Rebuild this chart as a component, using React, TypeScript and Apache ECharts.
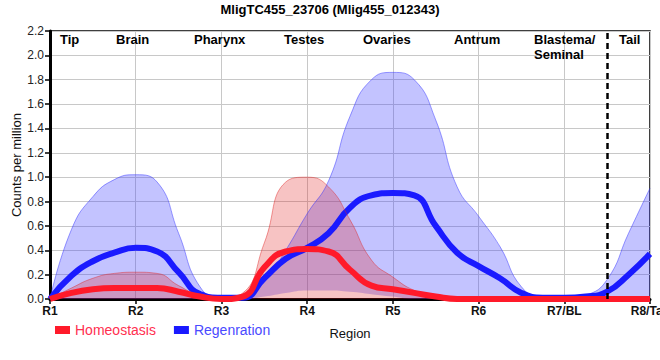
import React, { useEffect, useRef } from "react";
import * as echarts from "echarts";

const title = "MligTC455_23706 (Mlig455_012343)";
const categories = ["R1", "R2", "R3", "R4", "R5", "R6", "R7/BL", "R8/Tail"];
const regionNames = ["Tip", "Brain", "Pharynx", "Testes", "Ovaries", "Antrum", "Blastema/\nSeminal", "Tail"];

// sample positions along the region axis (quarter steps between regions)
const xPos = [0, 0.25, 0.5, 0.75, 1, 1.25, 1.5, 1.75, 2, 2.25, 2.5, 2.75, 3, 3.25, 3.5, 3.75, 4, 4.25, 4.5, 4.75, 5, 5.25, 5.5, 5.75, 6, 6.25, 6.5, 6.75, 7];

const homMean = [0, 0.05, 0.08, 0.09, 0.09, 0.09, 0.06, 0.02, 0.0, 0.02, 0.26, 0.39, 0.41, 0.39, 0.24, 0.11, 0.08, 0.05, 0.02, 0, 0, 0, 0, 0, 0, 0, 0, 0, 0];
const homHi = [0, 0.09, 0.17, 0.21, 0.22, 0.21, 0.11, 0.03, 0.01, 0.05, 0.46, 0.96, 1.0, 0.92, 0.65, 0.32, 0.18, 0.07, 0.02, 0, 0, 0, 0, 0, 0, 0, 0, 0, 0];

const regMean = [0, 0.19, 0.31, 0.38, 0.42, 0.39, 0.22, 0.04, 0.01, 0.01, 0.17, 0.33, 0.42, 0.54, 0.75, 0.85, 0.87, 0.85, 0.6, 0.38, 0.27, 0.17, 0.05, 0.01, 0.01, 0.02, 0.06, 0.2, 0.37];
const regHi = [0, 0.57, 0.84, 0.98, 1.02, 0.96, 0.54, 0.1, 0.01, 0.03, 0.14, 0.4, 0.7, 0.97, 1.5, 1.8, 1.86, 1.8, 1.47, 0.92, 0.68, 0.43, 0.1, 0.01, 0, 0.03, 0.16, 0.54, 0.91];
const regLo = [0, 0, 0, 0, 0, 0, 0, 0, 0, 0, 0.02, 0.05, 0.07, 0.07, 0.06, 0.04, 0.02, 0, 0, 0, 0, 0, 0, 0, 0, 0, 0, 0, 0];

const yTicks = { min: 0, max: 2.2, interval: 0.2 };
const dividerAt = 6.5;

const RED = "#ff1a2a";
const BLUE = "#1a1aff";
const FONT = "'Liberation Sans', Arial, sans-serif";

// label layout (pixels)
const regionLabelX = [60, 116, 194, 284, 363, 454, 534, 619];

export default function App() {
  const ref = useRef<HTMLDivElement>(null);
  useEffect(() => {
    document.body.style.margin = "0";
    if (!ref.current) return;
    const chart = echarts.init(ref.current, null, { renderer: "svg" });
    const xCats = xPos.map((x) => String(x));
    const diff = regHi.map((v, i) => +(v - regLo[i]).toFixed(3));
    const smooth = 0.5;
    const every = 4;
    const showTick = (i: number) => i % every === 0;
    chart.setOption({
      animation: false,
      textStyle: { fontFamily: FONT },
      title: {
        text: title,
        left: "center",
        top: -2,
        textStyle: { fontSize: 13, fontWeight: "bold", color: "#000", fontFamily: FONT },
      },
      legend: {
        left: 55,
        top: 323,
        padding: 0,
        icon: "rect",
        itemWidth: 15,
        itemHeight: 8,
        itemGap: 18,
        textStyle: { fontSize: 14, fontFamily: FONT },
        data: [
          { name: "Homeostasis", textStyle: { color: "#ff3050" } },
          { name: "Regenration", textStyle: { color: "#4a4aff" } },
        ],
      },
      grid: {
        left: 50,
        right: 10,
        top: 31,
        bottom: 61,
        show: true,
        borderColor: "#000",
        borderWidth: 1.5,
        containLabel: false,
        outerBoundsMode: "none",
      },
      xAxis: {
        type: "category",
        data: xCats,
        boundaryGap: false,
        name: "Region",
        nameLocation: "middle",
        nameGap: 28,
        nameMoveOverlap: false,
        nameTextStyle: { fontSize: 13, color: "#111" },
        axisLine: { show: true, lineStyle: { color: "#000", width: 3 } },
        axisTick: { show: true, length: 5, interval: showTick, lineStyle: { color: "#000", width: 1.5 } },
        axisLabel: {
          interval: showTick,
          formatter: (_v: string, i: number) => categories[i / every] ?? "",
          fontSize: 12,
          fontWeight: "bold",
          color: "#111",
          margin: 6,
        },
        splitLine: { show: true, interval: showTick, lineStyle: { color: "#c8c8c8", width: 1 } },
      },
      yAxis: {
        type: "value",
        min: yTicks.min,
        max: yTicks.max,
        interval: yTicks.interval,
        name: "Counts per million",
        nameLocation: "middle",
        nameGap: 27,
        nameMoveOverlap: false,
        nameTextStyle: { fontSize: 13, color: "#111" },
        axisLine: { show: true, lineStyle: { color: "#000", width: 3 } },
        axisTick: { show: true, length: 5, lineStyle: { color: "#000", width: 1.5 } },
        axisLabel: {
          formatter: (v: number) => v.toFixed(1),
          fontSize: 12,
          color: "#222",
          margin: 6,
        },
        splitLine: { show: true, lineStyle: { color: "#c8c8c8", width: 1 } },
      },
      graphic: regionNames.map((name, i) => ({
        type: "text",
        left: regionLabelX[i],
        top: 32,
        z: 100,
        style: {
          text: name,
          font: `bold 13px ${FONT}`,
          fill: "#000",
          lineHeight: 15,
        },
      })),
      series: [
        {
          name: "regLoBase",
          type: "line",
          stack: "reg",
          data: regLo,
          smooth,
          symbol: "none",
          lineStyle: { opacity: 0, width: 0 },
          silent: true,
        },
        {
          name: "regBand",
          type: "line",
          stack: "reg",
          data: diff,
          smooth,
          symbol: "none",
          lineStyle: { color: "rgba(60,60,255,0.5)", width: 1 },
          areaStyle: { color: "rgba(60,60,255,0.44)" },
          silent: true,
        },
        {
          name: "Regenration",
          type: "line",
          data: regMean,
          smooth,
          symbol: "none",
          clip: false,
          itemStyle: { color: BLUE },
          lineStyle: { color: BLUE, width: 6 },
          markLine: {
            silent: true,
            symbol: "none",
            label: { show: false },
            lineStyle: { color: "#000", width: 2.5, type: [6, 4] },
            data: [{ xAxis: String(dividerAt) }],
          },
        },
        {
          name: "homBand",
          type: "line",
          data: homHi,
          smooth,
          symbol: "none",
          lineStyle: { color: "rgba(225,40,40,0.45)", width: 1 },
          areaStyle: { color: "rgba(225,30,30,0.38)" },
          silent: true,
        },
        {
          name: "Homeostasis",
          type: "line",
          data: homMean,
          smooth,
          symbol: "none",
          clip: false,
          itemStyle: { color: RED },
          lineStyle: { color: RED, width: 6 },
        },
      ],
    });
    return () => chart.dispose();
  }, []);
  return <div ref={ref} style={{ width: 660, height: 360 }} />;
}
